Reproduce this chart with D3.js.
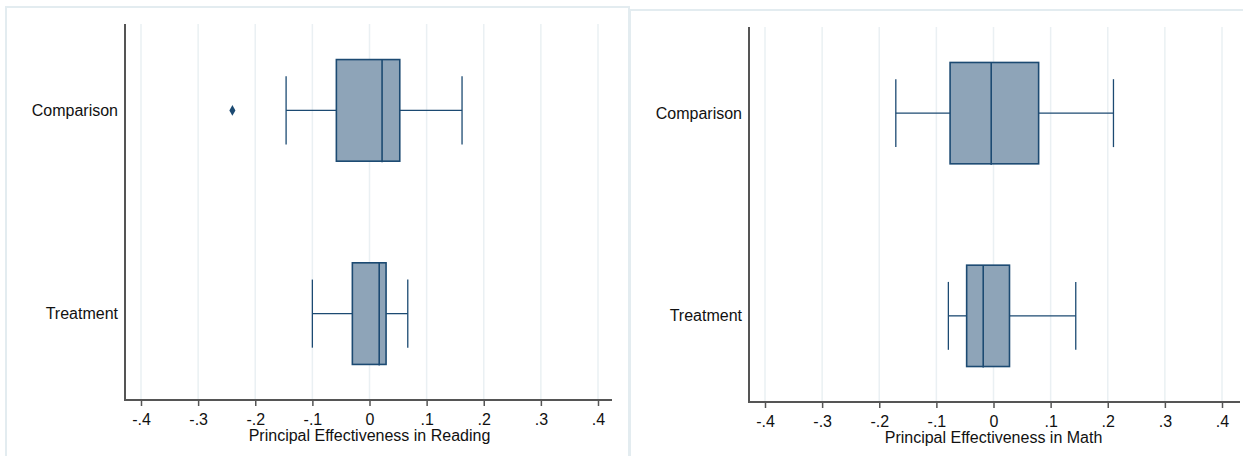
<!DOCTYPE html>
<html>
<head>
<meta charset="utf-8">
<script src="https://cdn.jsdelivr.net/npm/d3@7/dist/d3.min.js"></script>
<style>
  html, body { margin: 0; padding: 0; background: #fff; }
  svg { display: block; }
  text { font-family: "Liberation Sans", Arial, sans-serif; fill: #111; }
</style>
</head>
<body>
<svg id="chart" width="1243" height="456"></svg>
<script>
// ---------- data ----------
const categories = ["Comparison", "Treatment"];
const xTickValues = [-0.4, -0.3, -0.2, -0.1, 0, 0.1, 0.2, 0.3, 0.4];
const xTickLabels = ["-.4", "-.3", "-.2", "-.1", "0", ".1", ".2", ".3", ".4"];

const readingLowerWhisker = [-0.146, -0.100];
const readingQ1           = [-0.058, -0.030];
const readingMedian       = [ 0.022,  0.017];
const readingQ3           = [ 0.053,  0.029];
const readingUpperWhisker = [ 0.162,  0.067];
const readingOutliers     = [[-0.240], []];

const mathLowerWhisker = [-0.171, -0.079];
const mathQ1           = [-0.076, -0.047];
const mathMedian       = [-0.004, -0.018];
const mathQ3           = [ 0.079,  0.028];
const mathUpperWhisker = [ 0.210,  0.144];
const mathOutliers     = [[], []];

const readingTitle = "Principal Effectiveness in Reading";
const mathTitle = "Principal Effectiveness in Math";

// ---------- style ----------
const navy = "#1c4a72";
const boxFill = "#8ea4b8";
const gridColor = "#eaf0f3";
const frameColor = "#e3ecf0";
const axisColor = "#555";

const svg = d3.select("#chart");

function buildStats(lw, q1, med, q3, uw, out) {
  return categories.map((c, i) => ({
    cat: c, lw: lw[i], q1: q1[i], med: med[i], q3: q3[i], uw: uw[i], out: out[i]
  }));
}

function drawPanel(opt) {
  const g = svg.append("g");
  // panel frame
  g.append("rect")
    .attr("x", opt.frame[0]).attr("y", opt.frame[1])
    .attr("width", opt.frame[2]).attr("height", opt.frame[3])
    .attr("fill", "#fff").attr("stroke", frameColor).attr("stroke-width", 2);

  const x = d3.scaleLinear().domain([-0.4, 0.4]).range(opt.xRange);
  const y = d3.scalePoint().domain(categories).range([opt.top, opt.bottom]).padding(0.425);
  const step = y.step();
  const boxH = step * 0.5;
  const capH = step * 0.335;

  // grid
  g.append("g").selectAll("line").data(xTickValues).join("line")
    .attr("x1", d => x(d)).attr("x2", d => x(d))
    .attr("y1", opt.top).attr("y2", opt.bottom)
    .attr("stroke", gridColor).attr("stroke-width", 1.5);

  // x axis
  const xAxis = d3.axisBottom(x).tickValues(xTickValues)
    .tickFormat((d, i) => xTickLabels[i]).tickSize(6).tickPadding(8).tickSizeOuter(0);
  const xg = g.append("g").attr("transform", `translate(0,${opt.bottom})`).call(xAxis);
  xg.select(".domain").remove();
  xg.selectAll(".tick line").attr("stroke", axisColor).attr("stroke-width", 1.5);
  xg.selectAll(".tick text").attr("font-size", 16).attr("font-family", "Liberation Sans, Arial, sans-serif").attr("fill", "#111");
  g.append("line")
    .attr("x1", opt.axisX).attr("x2", opt.xAxisEnd)
    .attr("y1", opt.bottom).attr("y2", opt.bottom)
    .attr("stroke", axisColor).attr("stroke-width", 2);

  // y axis
  const yAxis = d3.axisLeft(y).tickSize(0).tickPadding(7);
  const yg = g.append("g").attr("transform", `translate(${opt.axisX},0)`).call(yAxis);
  yg.select(".domain").remove();
  yg.selectAll(".tick text").attr("font-size", 16).attr("font-family", "Liberation Sans, Arial, sans-serif").attr("fill", "#111");
  g.append("line")
    .attr("x1", opt.axisX).attr("x2", opt.axisX)
    .attr("y1", opt.top).attr("y2", opt.bottom + 1)
    .attr("stroke", axisColor).attr("stroke-width", 2);

  // axis title
  g.append("text")
    .attr("x", x(0)).attr("y", opt.bottom + 41)
    .attr("text-anchor", "middle").attr("font-size", 16)
    .text(opt.title);

  // boxes
  const stats = opt.stats;
  const bg = g.append("g").selectAll("g").data(stats).join("g");
  // whiskers
  bg.append("line")
    .attr("x1", d => x(d.lw)).attr("x2", d => x(d.q1))
    .attr("y1", d => y(d.cat)).attr("y2", d => y(d.cat))
    .attr("stroke", navy).attr("stroke-width", 1.3);
  bg.append("line")
    .attr("x1", d => x(d.q3)).attr("x2", d => x(d.uw))
    .attr("y1", d => y(d.cat)).attr("y2", d => y(d.cat))
    .attr("stroke", navy).attr("stroke-width", 1.3);
  // caps
  bg.append("line")
    .attr("x1", d => x(d.lw)).attr("x2", d => x(d.lw))
    .attr("y1", d => y(d.cat) - capH / 2).attr("y2", d => y(d.cat) + capH / 2)
    .attr("stroke", navy).attr("stroke-width", 1.3);
  bg.append("line")
    .attr("x1", d => x(d.uw)).attr("x2", d => x(d.uw))
    .attr("y1", d => y(d.cat) - capH / 2).attr("y2", d => y(d.cat) + capH / 2)
    .attr("stroke", navy).attr("stroke-width", 1.3);
  // box
  bg.append("rect")
    .attr("x", d => x(d.q1)).attr("width", d => x(d.q3) - x(d.q1))
    .attr("y", d => y(d.cat) - boxH / 2).attr("height", boxH)
    .attr("fill", boxFill).attr("stroke", navy).attr("stroke-width", 1.6);
  // median
  bg.append("line")
    .attr("x1", d => x(d.med)).attr("x2", d => x(d.med))
    .attr("y1", d => y(d.cat) - boxH / 2).attr("y2", d => y(d.cat) + boxH / 2 + 1)
    .attr("stroke", navy).attr("stroke-width", 1.6);
  // outliers
  bg.each(function(d) {
    d3.select(this).selectAll("path.out").data(d.out).join("path")
      .attr("class", "out")
      .attr("d", d3.symbol().type(d3.symbolDiamond).size(32))
      .attr("transform", v => `translate(${x(v)},${y(d.cat)})`)
      .attr("fill", navy);
  });
}

drawPanel({
  frame: [6, 7, 623, 460],
  xRange: [141, 598],
  top: 24, bottom: 400,
  axisX: 125, xAxisEnd: 612,
  title: readingTitle,
  stats: buildStats(readingLowerWhisker, readingQ1, readingMedian, readingQ3, readingUpperWhisker, readingOutliers)
});

drawPanel({
  frame: [630, 10, 620, 460],
  xRange: [765, 1222],
  top: 27, bottom: 402,
  axisX: 749, xAxisEnd: 1240,
  title: mathTitle,
  stats: buildStats(mathLowerWhisker, mathQ1, mathMedian, mathQ3, mathUpperWhisker, mathOutliers)
});
</script>
</body>
</html>
